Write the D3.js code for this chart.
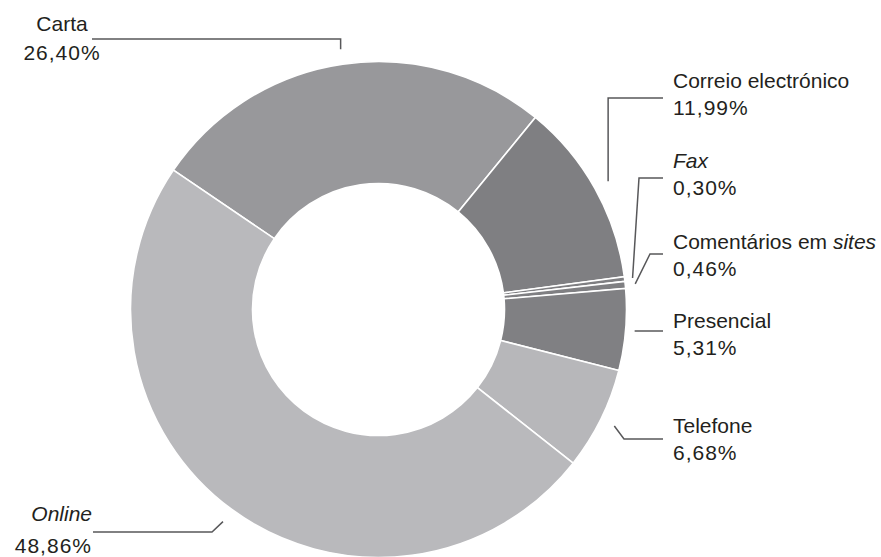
<!DOCTYPE html>
<html>
<head>
<meta charset="utf-8">
<script src="https://cdn.jsdelivr.net/npm/d3@7/dist/d3.min.js"></script>
<style>
  html, body { margin: 0; padding: 0; background: #fff; }
  svg { display: block; }
  text { font-family: "Liberation Sans", Arial, sans-serif; font-size: 21px; fill: #231f20; }
</style>
</head>
<body>
<svg id="chart" width="881" height="557"></svg>
<script>
// Contact channels and their shares (%)
const categories = ["Carta", "Correio electrónico", "Fax", "Comentários em sites", "Presencial", "Telefone", "Online"];
const shares = [26.40, 11.99, 0.30, 0.46, 5.31, 6.68, 48.86];
const shareLabels = ["26,40%", "11,99%", "0,30%", "0,46%", "5,31%", "6,68%", "48,86%"];
// Label name lines: segments with italic flags
const nameParts = [
  [["Carta", false]],
  [["Correio electrónico", false]],
  [["Fax", true]],
  [["Comentários em ", false], ["sites", true]],
  [["Presencial", false]],
  [["Telefone", false]],
  [["Online", true]]
];
const fills = ["#98989b", "#7f7f82", "#7f7f82", "#7f7f82", "#808083", "#b7b7ba", "#b9b9bc"];

// Label layout: text anchor point, leader elbow and end
const labelLayout = [
  { x: 62, y1: 31, y2: 60, anchor: "middle", r: 263, elbow: "vertical", ey: 39, endX: 92 },
  { x: 673, y1: 88, y2: 115, anchor: "start", r: 263, elbow: "vertical", ey: 98, endX: 663 },
  { x: 673, y1: 168, y2: 195, anchor: "start", r: 256, elbow: [639, 178], endX: 663 },
  { x: 673, y1: 249, y2: 276, anchor: "start", r: 258, elbow: [650, 254], endX: 663 },
  { x: 673, y1: 328, y2: 355, anchor: "start", r: 257, elbow: "flat", ey: 331, endX: 663 },
  { x: 673, y1: 433, y2: 460, anchor: "start", r: 263, elbow: [624, 439], endX: 663 },
  { x: 92, y1: 521, y2: 553, anchor: "end", r: 263, elbow: [212, 532], endX: 93 }
];

const cx = 378.5, cy = 309.5;
const outerR = 248, innerR = 126;
const startDeg = -55.8;

const svg = d3.select("#chart");
const g = svg.append("g").attr("transform", `translate(${cx},${cy})`);

const pie = d3.pie()
  .value(d => d)
  .sort(null)
  .startAngle(startDeg * Math.PI / 180)
  .endAngle((startDeg + 360) * Math.PI / 180);

const arcs = pie(shares);
const arc = d3.arc().innerRadius(innerR).outerRadius(outerR);

g.selectAll("path.slice")
  .data(arcs)
  .join("path")
  .attr("class", "slice")
  .attr("d", arc)
  .attr("fill", (d, i) => fills[i])
  .attr("stroke", "#fff")
  .attr("stroke-width", 1.6)
  .attr("stroke-linejoin", "miter");

// Leader lines from each slice to its label
arcs.forEach((d, i) => {
  const L = labelLayout[i];
  const mid = (d.startAngle + d.endAngle) / 2;
  const ax = cx + L.r * Math.sin(mid);
  const ay = cy - L.r * Math.cos(mid);
  let pts;
  if (L.elbow === "vertical") {
    pts = [[ax, ay], [ax, L.ey], [L.endX, L.ey]];
  } else if (L.elbow === "flat") {
    pts = [[ax, L.ey], [L.endX, L.ey]];
  } else {
    pts = [[ax, ay], L.elbow, [L.endX, L.elbow[1]]];
  }
  svg.append("path")
    .attr("d", d3.line()(pts))
    .attr("fill", "none")
    .attr("stroke", "#58585a")
    .attr("stroke-width", 1.5);
});

// Labels: name and share
categories.forEach((c, i) => {
  const L = labelLayout[i];
  const t = svg.append("text")
    .attr("x", L.x).attr("y", L.y1)
    .attr("text-anchor", L.anchor);
  nameParts[i].forEach(([s, it]) => {
    t.append("tspan").attr("font-style", it ? "italic" : "normal").text(s);
  });
  svg.append("text")
    .attr("x", L.x).attr("y", L.y2)
    .attr("text-anchor", L.anchor)
    .attr("letter-spacing", "1px")
    .text(shareLabels[i]);
});
</script>
</body>
</html>
